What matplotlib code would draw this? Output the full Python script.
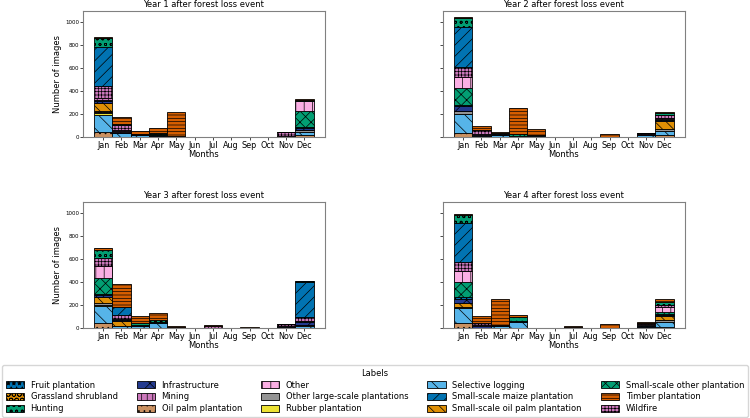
import matplotlib.pyplot as plt
import numpy as np

months = ['Jan', 'Feb', 'Mar', 'Apr', 'May', 'Jun', 'Jul', 'Aug', 'Sep', 'Oct', 'Nov', 'Dec']

# stacking order, bottom to top
labels = ['Oil palm plantation', 'Selective logging', 'Rubber plantation',
          'Other large-scale plantations', 'Grassland shrubland',
          'Small-scale oil palm plantation', 'Infrastructure', 'Fruit plantation',
          'Small-scale other plantation', 'Other', 'Mining', 'Wildfire',
          'Small-scale maize plantation', 'Hunting', 'Timber plantation']

colors = ['#ca9161', '#56b4e9', '#ece133', '#949494', '#de8f05',
          '#de8f05', '#233a8f', '#0173b2', '#029e73', '#fbafe4',
          '#cc78bc', '#cc78bc', '#0173b2', '#029e73', '#d55e00']

hatches = ['...', '\\\\', '/', '', 'OOO', '\\\\\\', 'x', '***', 'xxx', '||',
           '|||', '+++++', '///', 'ooo', '-----']

# rows follow `labels`, columns follow `months`
year1 = [
    [40, 3, 0, 0, 0, 0, 0, 0, 0, 0, 0, 15],
    [155, 35, 15, 5, 0, 0, 0, 0, 0, 0, 0, 30],
    [15, 0, 0, 0, 0, 0, 0, 0, 0, 0, 0, 0],
    [10, 0, 0, 0, 0, 0, 0, 0, 0, 0, 0, 15],
    [5, 0, 0, 0, 0, 0, 0, 0, 0, 0, 0, 0],
    [75, 0, 0, 0, 0, 0, 0, 0, 0, 0, 0, 0],
    [18, 5, 8, 10, 5, 0, 0, 0, 0, 0, 5, 20],
    [5, 0, 5, 5, 3, 0, 0, 0, 0, 0, 3, 10],
    [0, 5, 0, 10, 0, 0, 0, 0, 0, 0, 0, 140],
    [0, 5, 0, 0, 0, 0, 0, 0, 0, 0, 0, 88],
    [20, 10, 0, 0, 0, 0, 0, 0, 0, 0, 0, 0],
    [100, 40, 0, 0, 0, 0, 0, 0, 0, 0, 32, 0],
    [345, 0, 0, 0, 0, 0, 0, 0, 0, 0, 0, 0],
    [75, 12, 0, 8, 0, 0, 0, 0, 0, 0, 0, 8],
    [7, 60, 27, 42, 213, 2, 0, 0, 0, 0, 8, 8],
]

year2 = [
    [35, 0, 0, 0, 0, 0, 0, 0, 0, 0, 0, 15],
    [168, 5, 20, 0, 0, 0, 0, 0, 0, 0, 15, 40],
    [0, 0, 0, 0, 0, 0, 0, 0, 0, 0, 0, 0],
    [21, 0, 0, 0, 0, 0, 0, 0, 0, 0, 0, 18],
    [0, 0, 0, 0, 0, 0, 0, 0, 0, 0, 0, 0],
    [0, 0, 0, 8, 0, 0, 0, 0, 0, 0, 0, 70],
    [49, 8, 8, 3, 10, 0, 2, 0, 0, 0, 8, 8],
    [9, 5, 3, 0, 5, 0, 0, 0, 0, 0, 0, 4],
    [145, 0, 0, 15, 0, 0, 0, 0, 0, 0, 0, 0],
    [96, 0, 0, 0, 0, 0, 0, 0, 0, 0, 0, 10],
    [0, 5, 0, 0, 0, 0, 0, 0, 0, 0, 0, 0],
    [85, 35, 0, 0, 0, 0, 0, 0, 0, 0, 15, 30],
    [351, 0, 0, 0, 0, 0, 0, 0, 0, 0, 0, 0],
    [79, 0, 0, 0, 0, 0, 0, 0, 0, 0, 0, 15],
    [14, 41, 10, 227, 55, 0, 1, 0, 23, 0, 0, 8],
]

year3 = [
    [40, 0, 0, 0, 0, 0, 0, 0, 0, 0, 0, 0],
    [150, 15, 15, 40, 0, 0, 0, 0, 0, 0, 10, 20],
    [15, 0, 0, 0, 0, 0, 0, 0, 0, 0, 0, 0],
    [10, 0, 0, 0, 0, 0, 0, 0, 0, 0, 0, 10],
    [5, 0, 0, 0, 0, 0, 0, 0, 0, 0, 0, 0],
    [50, 45, 0, 0, 0, 0, 0, 0, 0, 0, 0, 0],
    [20, 10, 10, 5, 5, 0, 3, 0, 3, 0, 5, 20],
    [10, 5, 5, 5, 0, 0, 0, 0, 0, 0, 0, 10],
    [140, 0, 0, 0, 0, 0, 0, 0, 0, 0, 0, 0],
    [100, 0, 0, 0, 0, 0, 0, 0, 0, 0, 0, 0],
    [0, 0, 0, 0, 0, 0, 0, 0, 0, 0, 0, 0],
    [70, 35, 0, 0, 0, 0, 15, 0, 0, 0, 20, 40],
    [0, 75, 0, 0, 0, 0, 0, 0, 0, 0, 0, 300],
    [70, 0, 15, 20, 0, 0, 0, 0, 0, 0, 0, 9],
    [22, 198, 62, 58, 12, 0, 5, 0, 3, 0, 0, 0],
]

year4 = [
    [46, 0, 0, 0, 0, 0, 0, 0, 0, 0, 0, 8],
    [125, 0, 15, 55, 0, 0, 0, 0, 0, 0, 5, 47],
    [8, 0, 0, 0, 0, 0, 0, 0, 0, 0, 0, 0],
    [7, 0, 0, 0, 0, 0, 0, 0, 0, 0, 0, 15],
    [0, 0, 0, 0, 0, 0, 0, 0, 0, 0, 0, 0],
    [35, 0, 0, 0, 0, 0, 0, 0, 0, 0, 0, 35],
    [29, 15, 10, 10, 2, 0, 7, 0, 0, 0, 15, 12],
    [23, 5, 0, 0, 0, 0, 0, 0, 0, 0, 7, 8],
    [130, 0, 0, 0, 0, 0, 0, 0, 0, 0, 0, 15],
    [96, 0, 0, 0, 0, 0, 0, 0, 0, 0, 10, 40],
    [0, 5, 0, 0, 0, 0, 0, 0, 0, 0, 0, 0],
    [78, 15, 0, 0, 0, 0, 5, 0, 0, 0, 10, 20],
    [339, 0, 0, 0, 0, 0, 0, 0, 0, 0, 0, 0],
    [67, 5, 0, 35, 0, 0, 0, 0, 0, 0, 0, 25],
    [15, 59, 227, 10, 1, 0, 5, 0, 35, 0, 5, 27],
]

years = [year1, year2, year3, year4]

plt.rcParams['hatch.linewidth'] = 0.5

fig = plt.figure(figsize=(7.5, 4.18), dpi=100)
boxes = [(0.1107, 0.6722), (0.5907, 0.6722), (0.1107, 0.2153), (0.5907, 0.2153)]
axes = []
for i, (l, b) in enumerate(boxes):
    ax = fig.add_axes([l, b, 0.322, 0.3014], sharey=axes[0] if axes else None)
    axes.append(ax)

x = np.arange(len(months))
handles = {}
for i, (ax, data) in enumerate(zip(axes, years)):
    bottom = np.zeros(len(months))
    for lab, col, h, vals in zip(labels, colors, hatches, data):
        vals = np.array(vals, dtype=float)
        bars = ax.bar(x, vals, width=1.0, bottom=bottom, color=col, hatch=h,
                      edgecolor='black', linewidth=0.6, label=lab)
        handles[lab] = bars
        bottom += vals
    ax.set_title(f'Year {i + 1} after forest loss event', fontsize=6, pad=3)
    ax.set_xticks(x)
    ax.set_xticklabels(months, fontsize=5.8)
    ax.set_xlabel('Months', fontsize=6, labelpad=0)
    ax.set_xlim(-1.1, 12.1)
    ax.set_ylim(0, 1100)
    ax.tick_params(axis='y', labelsize=4, length=2, width=0.5, pad=1)
    ax.tick_params(axis='x', length=2, width=0.5, pad=1)
    for s in ax.spines.values():
        s.set_edgecolor('0.5')
    if i % 2 == 0:
        ax.set_ylabel('Number of images', fontsize=6, labelpad=2)
    else:
        ax.tick_params(axis='y', labelleft=False)

axes[0].set_yticks([0, 200, 400, 600, 800, 1000])

order = sorted(labels)
leg = fig.legend([handles[k] for k in order], order, loc='lower left',
                 bbox_to_anchor=(0.003, 0.003, 0.994, 0.135), mode='expand',
                 ncol=5, fontsize=6, title='Labels', title_fontsize=6,
                 handlelength=2.2, handleheight=0.9, labelspacing=0.35,
                 borderaxespad=0, fancybox=True)

fig.savefig('out.png', dpi=100)
